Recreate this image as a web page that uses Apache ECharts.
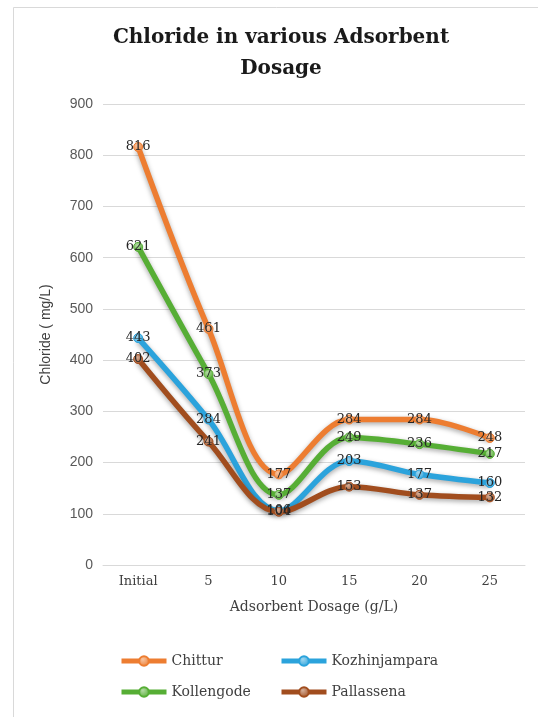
<!DOCTYPE html>
<html>
<head>
<meta charset="utf-8">
<script src="https://cdn.jsdelivr.net/npm/echarts@6/dist/echarts.min.js"></script>
<style>
  html, body { margin: 0; padding: 0; background: #ffffff; }
  #chart { width: 538px; height: 717px; }
</style>
</head>
<body>
<div id="chart"></div>
<script>
// Chloride concentration (mg/L) at each adsorbent dosage
const dosages = ['Initial', '5', '10', '15', '20', '25'];
const chittur = [816, 461, 177, 284, 284, 248];
const kozhinjampara = [443, 284, 106, 203, 177, 160];
const kollengode = [621, 373, 137, 249, 236, 217];
const pallassena = [402, 241, 104, 153, 137, 132];
const yTicks = { min: 0, max: 900, step: 100 };

const serif = 'DejaVu Serif';
const sans = 'Liberation Sans';

function lighten(hex, amt) {
  const n = parseInt(hex.slice(1), 16);
  const r = (n >> 16) & 255, g = (n >> 8) & 255, b = n & 255;
  const f = c => Math.round(c + (255 - c) * amt);
  return 'rgb(' + f(r) + ',' + f(g) + ',' + f(b) + ')';
}

function makeSeries(name, data, color) {
  return {
    name: name,
    type: 'line',
    data: data,
    smooth: 0.35,
    symbol: 'circle',
    symbolSize: 9,
    lineStyle: {
      width: 5.5,
      color: color,
      shadowColor: 'rgba(0,0,0,0.35)',
      shadowBlur: 5,
      shadowOffsetY: 2
    },
    itemStyle: {
      color: {
        type: 'radial', x: 0.4, y: 0.35, r: 0.7,
        colorStops: [
          { offset: 0, color: lighten(color, 0.55) },
          { offset: 1, color: color }
        ]
      },
      borderColor: color,
      borderWidth: 1
    },
    label: {
      show: true,
      position: 'inside',
      color: '#262626',
      fontFamily: serif,
      fontSize: 13
    },
    emphasis: { disabled: true }
  };
}

const seriesDefs = [
  ['Chittur', chittur, '#ED7D31'],
  ['Kozhinjampara', kozhinjampara, '#2BA3DC'],
  ['Kollengode', kollengode, '#56AE35'],
  ['Pallassena', pallassena, '#A14D1E']
];

function legendAt(name, left, top) {
  return {
    data: [name],
    left: left,
    top: top,
    itemWidth: 45,
    itemHeight: 12,
    itemGap: 0,
    padding: 0,
    lineStyle: { width: 5 },
    textStyle: { fontFamily: serif, fontSize: 14, color: '#404040' },
    selectedMode: false
  };
}

const chart = echarts.init(document.getElementById('chart'), null, { renderer: 'canvas' });
chart.setOption({
  animation: false,
  backgroundColor: '#ffffff',
  color: seriesDefs.map(d => d[2]),
  graphic: [{
    type: 'rect',
    left: 11, top: 5,
    shape: { width: 540, height: 720 },
    style: { fill: 'none', stroke: '#d9d9d9', lineWidth: 1 },
    z: -1
  }],
  title: {
    text: 'Chloride in various Adsorbent\nDosage',
    left: 276,
    top: 17,
    textAlign: 'center',
    textStyle: {
      fontFamily: serif,
      fontWeight: 'bold',
      fontSize: 20,
      lineHeight: 31,
      color: '#1a1a1a'
    }
  },
  legend: [
    legendAt('Chittur', 119, 654),
    legendAt('Kozhinjampara', 279, 654),
    legendAt('Kollengode', 119, 685),
    legendAt('Pallassena', 279, 685)
  ],
  grid: { left: 103, right: 13, top: 104, bottom: 152 },
  xAxis: {
    type: 'category',
    data: dosages,
    boundaryGap: true,
    axisLine: { show: true, lineStyle: { color: '#d9d9d9', width: 1 } },
    axisTick: { show: false },
    axisLabel: { fontFamily: serif, fontSize: 13, color: '#404040', margin: 10 },
    name: 'Adsorbent Dosage (g/L)',
    nameLocation: 'middle',
    nameGap: 35,
    nameTextStyle: { fontFamily: serif, fontSize: 14, color: '#404040' }
  },
  yAxis: {
    type: 'value',
    min: yTicks.min,
    max: yTicks.max,
    interval: yTicks.step,
    axisLine: { show: false },
    axisTick: { show: false },
    splitLine: { lineStyle: { color: '#d9d9d9', width: 1 } },
    axisLabel: { fontFamily: sans, fontSize: 14, color: '#595959', margin: 10 },
    name: 'Chloride ( mg/L)',
    nameLocation: 'middle',
    nameGap: 50,
    nameTextStyle: { fontFamily: sans, fontSize: 14, color: '#404040' }
  },
  series: seriesDefs.map(d => makeSeries(d[0], d[1], d[2]))
});
</script>
</body>
</html>
